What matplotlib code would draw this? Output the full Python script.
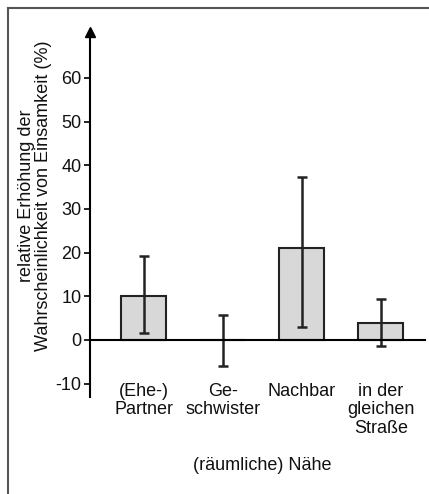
import numpy as np
import matplotlib
matplotlib.use("Agg")
import matplotlib.pyplot as plt
from matplotlib.lines import Line2D

plt.rcParams['font.family'] = ['Liberation Sans', 'DejaVu Sans']

# data
categories = ['(Ehe-)\nPartner', 'Ge-\nschwister', 'Nachbar', 'in der\ngleichen\nStraße']
values = [10, 0, 21, 4]
err_low = [1.5, -6, 3, -1.4]
err_high = [19.2, 5.8, 37.4, 9.4]
yticks = [-10, 0, 10, 20, 30, 40, 50, 60]

W, H = 429, 494
fig = plt.figure(figsize=(W / 100, H / 100), dpi=100)
ax = fig.add_axes([90 / W, 1 - 397 / H, (425 - 90) / W, (397 - 32) / H])

x = np.arange(len(categories))
yerr = [np.array(values) - np.array(err_low), np.array(err_high) - np.array(values)]

ax.bar(x, values, width=0.57, color='#d8d8d8', edgecolor='#222222', linewidth=1.5, zorder=2)
ax.errorbar(x, values, yerr=yerr, fmt='none', ecolor='#222222', elinewidth=1.8,
            capsize=3.8, capthick=1.8, zorder=3)

ax.set_xlim(-0.68, 3.56)
ax.set_ylim(-13.05, 70.5)

ax.spines['top'].set_visible(False)
ax.spines['right'].set_visible(False)
ax.spines['bottom'].set_position(('data', 0))
ax.spines['bottom'].set_linewidth(1.5)
ax.spines['left'].set_linewidth(1.5)
ax.spines['bottom'].set_zorder(4)

ax.set_yticks(yticks)
ax.set_yticklabels([str(t) for t in yticks])
ax.tick_params(axis='y', direction='out', length=4, width=1.3, pad=2, labelsize=13, colors='#111111')
ax.set_xticks(x)
ax.set_xticklabels(categories, fontsize=13, linespacing=1.1)
ax.tick_params(axis='x', length=0, pad=31, colors='#111111')

# arrow head on the y axis
ax.plot(0, 1, marker='^', color='black', markersize=7, transform=ax.transAxes, clip_on=False)

ax.set_facecolor('none')

fig.text(35 / W, 1 - 196 / H,
         'relative Erhöhung der\nWahrscheinlichkeit von Einsamkeit (%)',
         rotation=90, ha='center', va='center', multialignment='center',
         fontsize=13, linespacing=0.95, color='#111111')
fig.text(262 / W, 1 - 465 / H, '(räumliche) Nähe', ha='center', va='center',
         fontsize=13, color='#111111')

# frame on top and left side
fig.add_artist(Line2D([8 / W, 8 / W], [0, 1 - 8 / H], color='#555555', linewidth=1.5))
fig.add_artist(Line2D([8 / W, 1], [1 - 8 / H, 1 - 8 / H], color='#555555', linewidth=1.5))

fig.savefig('out.png', dpi=100)
